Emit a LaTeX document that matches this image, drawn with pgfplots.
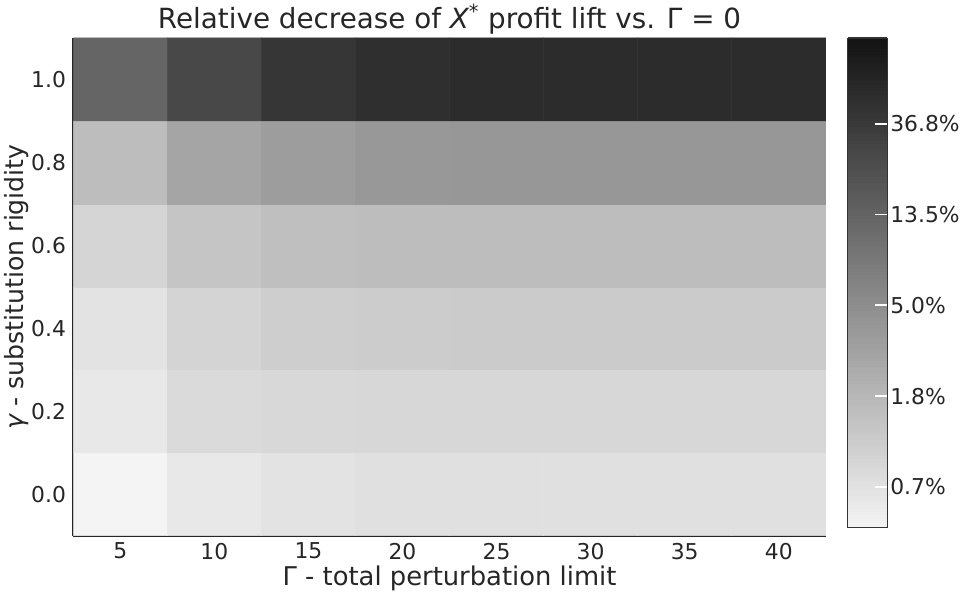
\documentclass[border=0pt]{standalone}
\usepackage{fontspec}
\setmainfont{DejaVu Sans}
\usepackage{pgfplots}
\usepackage{pgfplotstable}
\pgfplotsset{compat=1.18}

% relative decrease (fraction), rows gamma = 0.0 ... 1.0, columns Gamma = 5 ... 40
\pgfplotstableread{
x  y    v
5  0.0  0.00430
10 0.0  0.00574
15 0.0  0.00647
20 0.0  0.00696
25 0.0  0.00696
30 0.0  0.00696
35 0.0  0.00696
40 0.0  0.00696
5  0.2  0.00574
10 0.2  0.00804
15 0.2  0.00843
20 0.2  0.00864
25 0.2  0.00864
30 0.2  0.00864
35 0.2  0.00864
40 0.2  0.00864
5  0.4  0.00647
10 0.4  0.00929
15 0.4  0.01073
20 0.4  0.01126
25 0.4  0.01153
30 0.4  0.01153
35 0.4  0.01153
40 0.4  0.01153
5  0.6  0.00906
10 0.6  0.01333
15 0.6  0.01540
20 0.6  0.01616
25 0.6  0.01616
30 0.6  0.01616
35 0.6  0.01616
40 0.6  0.01616
5  0.8  0.01616
10 0.8  0.02812
15 0.8  0.03408
20 0.8  0.03846
25 0.8  0.03939
30 0.8  0.03939
35 0.8  0.03939
40 0.8  0.03939
5  1.0  0.1313
10 1.0  0.2641
15 1.0  0.4074
20 1.0  0.4823
25 1.0  0.5183
30 1.0  0.5183
35 1.0  0.5183
40 1.0  0.5183
}\lossdata

\begin{document}
\begin{tikzpicture}
\begin{axis}[
    scale only axis,
    width=568.5pt, height=376pt,
    xmin=2.5, xmax=42.5,
    ymin=-0.1, ymax=1.1,
    axis x line*=bottom,
    axis y line*=left,
    axis line style={black!85, line width=1.3pt, -},
    xtick={5,10,...,40},
    ytick={0,0.2,0.4,0.6,0.8,1.0},
    yticklabels={0.0,0.2,0.4,0.6,0.8,1.0},
    major tick length=0pt,
    tick label style={font=\fontsize{16.5}{18}\selectfont, black!85},
    /pgf/number format/assume math mode=true,
    xticklabel style={yshift=-2pt},
    yticklabel style={xshift=-2pt},
    xlabel={Γ - total perturbation limit},
    ylabel={{\itshape γ} - substitution rigidity},
    xlabel style={font=\fontsize{19.5}{21}\selectfont, black!85, yshift=2pt},
    ylabel style={font=\fontsize{19}{21}\selectfont, black!85, yshift=-5pt},
    title={Relative decrease of {\itshape X}\textsuperscript{*} profit lift vs. Γ = 0},
    title style={font=\fontsize{21}{23}\selectfont, black!85, yshift=-7pt},
    colormap={greyrev}{gray(0cm)=(0.957); gray(1cm)=(0.078)},
    point meta min=-5.45, point meta max=-0.055,
    colorbar sampled,
    colorbar style={
        at={(parent axis.north east)}, anchor=north west, xshift=8pt,
        width=30pt, height=370pt,
        samples=150,
        ytick={-5,-4,-3,-2,-1},
        yticklabels={0.7\%,1.8\%,5.0\%,13.5\%,36.8\%},
        ytick pos=right,
        tick align=inside,
        major tick length=9pt,
        tick style={white, line width=1.5pt},
        yticklabel style={font=\fontsize{16.5}{18}\selectfont, black!85, inner xsep=1pt, xshift=1pt},
        axis line style={black!80, line width=1.2pt},
    },
]
\addplot[matrix plot*, mesh/cols=8, point meta={ln(\thisrow{v})}, draw=none]
    table[x=x, y=y] {\lossdata};
\end{axis}
\end{tikzpicture}
\end{document}
